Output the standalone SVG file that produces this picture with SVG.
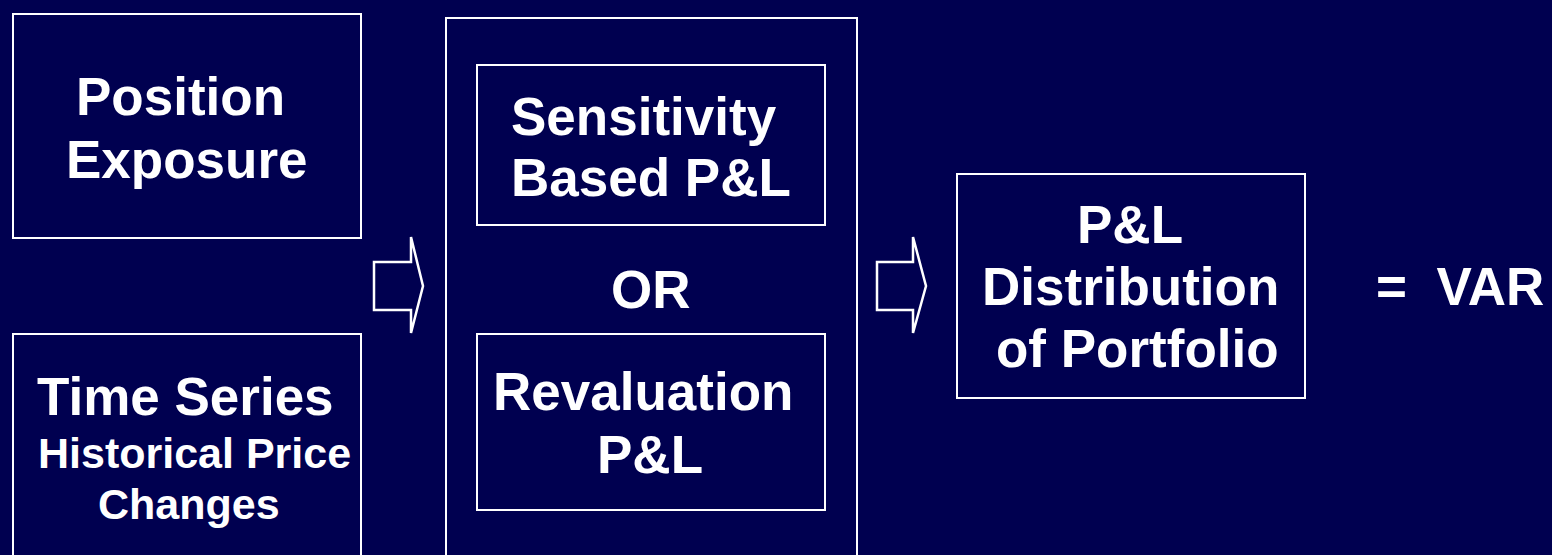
<svg xmlns="http://www.w3.org/2000/svg" width="1552" height="555" viewBox="0 0 1552 555">
  <style>
    .box { fill: none; stroke: #ffffff; stroke-width: 2; }
    .arrow { fill: none; stroke: #ffffff; stroke-width: 2.5; stroke-linejoin: miter; }
    .big { font-family: "Liberation Sans", Arial, sans-serif; font-weight: bold; font-size: 53px; fill: #ffffff; }
    .small { font-family: "Liberation Sans", Arial, sans-serif; font-weight: bold; font-size: 43px; fill: #ffffff; }
  </style>
  <rect x="0" y="0" width="1552" height="555" fill="#000050"/>

  <g id="position-exposure">
    <rect class="box" x="13" y="14" width="348" height="224"/>
    <text class="big" x="76" y="115">Position</text>
    <text class="big" x="66" y="178">Exposure</text>
  </g>

  <g id="time-series">
    <rect class="box" x="13" y="334" width="348" height="240"/>
    <text class="big" x="37" y="415">Time Series</text>
    <text class="small" x="38" y="468">Historical Price</text>
    <text class="small" x="98" y="519">Changes</text>
  </g>

  <g id="pl-method">
    <rect class="box" x="446" y="18" width="411" height="560"/>
    <text class="big" x="611" y="308">OR</text>
  </g>

  <g id="sensitivity-pl">
    <rect class="box" x="477" y="65" width="348" height="160"/>
    <text class="big" x="511" y="135">Sensitivity</text>
    <text class="big" x="511" y="196">Based P&amp;L</text>
  </g>

  <g id="revaluation-pl">
    <rect class="box" x="477" y="334" width="348" height="176"/>
    <text class="big" x="493" y="410">Revaluation</text>
    <text class="big" x="597" y="473">P&amp;L</text>
  </g>

  <g id="pl-distribution">
    <rect class="box" x="957" y="174" width="348" height="224"/>
    <text class="big" x="1077" y="243">P&amp;L</text>
    <text class="big" x="982" y="305">Distribution</text>
    <text class="big" x="996" y="367">of Portfolio</text>
  </g>

  <g id="var">
    <text class="big" x="1376" y="305" xml:space="preserve">=  VAR</text>
  </g>

  <g id="connectors">
    <polygon class="arrow" points="374,262 411,262 411,237 423,286 411,333 411,310 374,310"/>
    <polygon class="arrow" points="877,262 913,262 913,237 926,286 913,333 913,310 877,310"/>
  </g>
</svg>
